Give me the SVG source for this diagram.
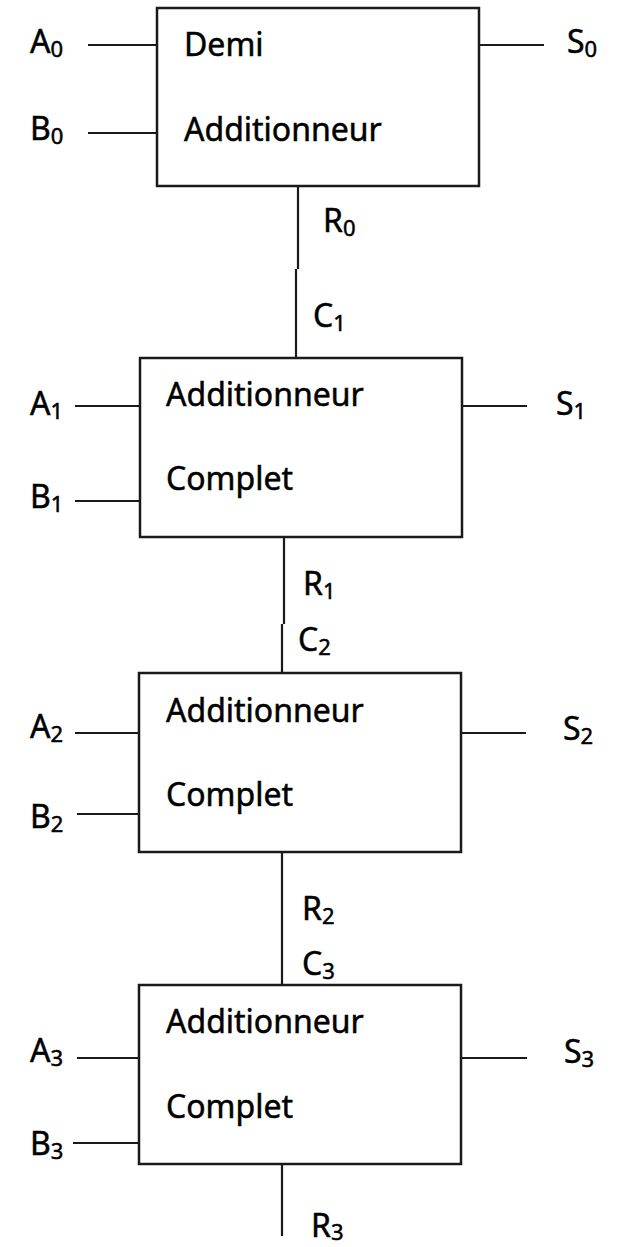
<svg xmlns="http://www.w3.org/2000/svg" width="626" height="1247" viewBox="0 0 626 1247">
  <style>
    .box { fill: #ffffff; stroke: #1a1a1a; stroke-width: 2.5; }
    .wire { stroke: #1a1a1a; stroke-width: 2.2; fill: none; }
    text { font-family: "Noto Sans", "Open Sans", sans-serif; font-size: 32px; fill: #000; stroke: #000; stroke-width: 0.5; }
    .sub { font-size: 22px; }
  </style>
  <rect width="626" height="1247" fill="#ffffff"/>

  <!-- wires between stages and to the I/O labels -->
  <g id="connectors">
    <!-- stage 0 -->
    <line class="wire" x1="88" y1="45" x2="157" y2="45"/>
    <line class="wire" x1="88" y1="133" x2="157" y2="133"/>
    <line class="wire" x1="479" y1="45" x2="544" y2="45"/>
    <!-- carry 0 -> 1 -->
    <line class="wire" x1="298" y1="186" x2="298" y2="269"/>
    <line class="wire" x1="296" y1="269" x2="296" y2="358"/>
    <!-- stage 1 -->
    <line class="wire" x1="75" y1="406" x2="140" y2="406"/>
    <line class="wire" x1="75" y1="501" x2="140" y2="501"/>
    <line class="wire" x1="462" y1="406" x2="527" y2="406"/>
    <!-- carry 1 -> 2 -->
    <line class="wire" x1="284" y1="537" x2="284" y2="624"/>
    <line class="wire" x1="282" y1="624" x2="282" y2="673"/>
    <!-- stage 2 -->
    <line class="wire" x1="75" y1="733" x2="139" y2="733"/>
    <line class="wire" x1="77" y1="814" x2="142" y2="814"/>
    <line class="wire" x1="461" y1="733" x2="526" y2="733"/>
    <!-- carry 2 -> 3 -->
    <line class="wire" x1="282" y1="852" x2="282" y2="985"/>
    <!-- stage 3 -->
    <line class="wire" x1="77" y1="1058" x2="142" y2="1058"/>
    <line class="wire" x1="73" y1="1143" x2="139" y2="1143"/>
    <line class="wire" x1="461" y1="1058" x2="527" y2="1058"/>
    <!-- final carry out -->
    <line class="wire" x1="282" y1="1164" x2="282" y2="1236"/>
  </g>

  <!-- half adder -->
  <g id="stage0">
    <rect class="box" x="157" y="8" width="322" height="178"/>
    <text x="184" y="56">Demi</text>
    <text x="184" y="141">Additionneur</text>
    <text x="30" y="53">A<tspan class="sub" dy="4">0</tspan></text>
    <text x="30" y="140">B<tspan class="sub" dy="4">0</tspan></text>
    <text x="567" y="53">S<tspan class="sub" dy="4">0</tspan></text>
    <text x="323" y="232">R<tspan class="sub" dy="4">0</tspan></text>
  </g>

  <!-- full adder 1 -->
  <g id="stage1">
    <rect class="box" x="140" y="358" width="322" height="179"/>
    <text x="166" y="406">Additionneur</text>
    <text x="166" y="490">Complet</text>
    <text x="313" y="327">C<tspan class="sub" dy="4">1</tspan></text>
    <text x="30" y="415">A<tspan class="sub" dy="4">1</tspan></text>
    <text x="30" y="508">B<tspan class="sub" dy="4">1</tspan></text>
    <text x="556" y="415">S<tspan class="sub" dy="4">1</tspan></text>
    <text x="303" y="595">R<tspan class="sub" dy="4">1</tspan></text>
  </g>

  <!-- full adder 2 -->
  <g id="stage2">
    <rect class="box" x="139" y="673" width="322" height="179"/>
    <text x="166" y="722">Additionneur</text>
    <text x="166" y="806">Complet</text>
    <text x="298" y="651">C<tspan class="sub" dy="4">2</tspan></text>
    <text x="30" y="738">A<tspan class="sub" dy="4">2</tspan></text>
    <text x="30" y="828">B<tspan class="sub" dy="4">2</tspan></text>
    <text x="563" y="740">S<tspan class="sub" dy="4">2</tspan></text>
    <text x="302" y="920">R<tspan class="sub" dy="4">2</tspan></text>
  </g>

  <!-- full adder 3 -->
  <g id="stage3">
    <rect class="box" x="139" y="985" width="322" height="179"/>
    <text x="166" y="1033">Additionneur</text>
    <text x="166" y="1118">Complet</text>
    <text x="302" y="975">C<tspan class="sub" dy="4">3</tspan></text>
    <text x="30" y="1062">A<tspan class="sub" dy="4">3</tspan></text>
    <text x="30" y="1155">B<tspan class="sub" dy="4">3</tspan></text>
    <text x="564" y="1063">S<tspan class="sub" dy="4">3</tspan></text>
    <text x="311" y="1237">R<tspan class="sub" dy="3">3</tspan></text>
  </g>
</svg>
